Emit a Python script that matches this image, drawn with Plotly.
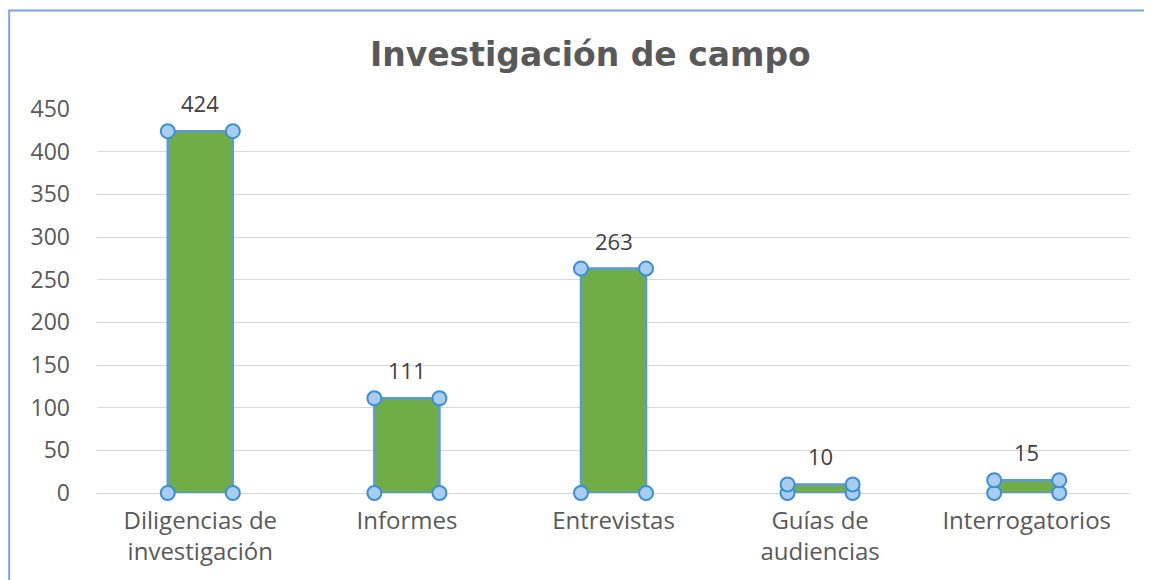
import plotly.graph_objects as go

# data
categories = ["Diligencias de investigación", "Informes", "Entrevistas",
              "Guías de audiencias", "Interrogatorios"]
tick_labels = ["Diligencias de<br>investigación", "Informes", "Entrevistas",
               "Guías de<br>audiencias", "Interrogatorios"]
values = [424, 111, 263, 10, 15]
y_ticks = [0, 50, 100, 150, 200, 250, 300, 350, 400, 450]

BAR_WIDTH = 0.315
positions = list(range(len(categories)))

fig = go.Figure()

fig.add_trace(go.Bar(
    x=positions,
    y=values,
    width=BAR_WIDTH,
    marker=dict(color="#70AD47", line=dict(color="#5B9BD5", width=2.5)),
    hoverinfo="skip",
    showlegend=False,
))

# selection handles at the bar corners (Excel-style)
hx, hy = [], []
for p, v in zip(positions, values):
    for dx in (-BAR_WIDTH / 2, BAR_WIDTH / 2):
        hx += [p + dx, p + dx]
        hy += [0, v]
fig.add_trace(go.Scatter(
    x=hx, y=hy, mode="markers",
    marker=dict(symbol="circle", size=14, color="#A9CDF0",
                line=dict(color="#3B8FD9", width=2)),
    hoverinfo="skip", showlegend=False, cliponaxis=False,
))

# data labels
for p, v in zip(positions, values):
    fig.add_annotation(x=p, y=v, text=str(v), showarrow=False,
                       yanchor="bottom", yshift=11,
                       font=dict(size=22, color="#404040"))

fig.update_layout(
    width=1144, height=572,
    margin=dict(l=89, r=22, t=101, b=87),
    paper_bgcolor="white", plot_bgcolor="white",
    font=dict(family="Open Sans", color="#595959"),
    title=dict(text="Investigación de campo", x=0.509, xanchor="center",
               y=0.918, yanchor="middle",
               font=dict(family="DejaVu Sans", size=33, color="#595959",
                         weight="bold")),
    shapes=[dict(type="rect", xref="paper", yref="paper",
                 x0=-0.085, x1=1.05, y0=-0.3, y1=1.2565,
                 line=dict(color="#7DA2E0", width=2), layer="below")],
)

fig.update_xaxes(
    range=[-0.5, 4.5], tickvals=positions, ticktext=tick_labels,
    showgrid=False, zeroline=False, showline=False, ticks="",
    ticklabelstandoff=11,
    tickfont=dict(size=24, color="#595959"),
)
fig.update_yaxes(
    range=[0, 450], tickvals=y_ticks, showgrid=True, gridcolor="#D9D9D9",
    gridwidth=1, zeroline=True, zerolinecolor="#D9D9D9", zerolinewidth=1,
    showline=False, ticks="", ticklabelstandoff=26,
    tickfont=dict(size=23, color="#595959"),
)

fig.write_html("out.html")
